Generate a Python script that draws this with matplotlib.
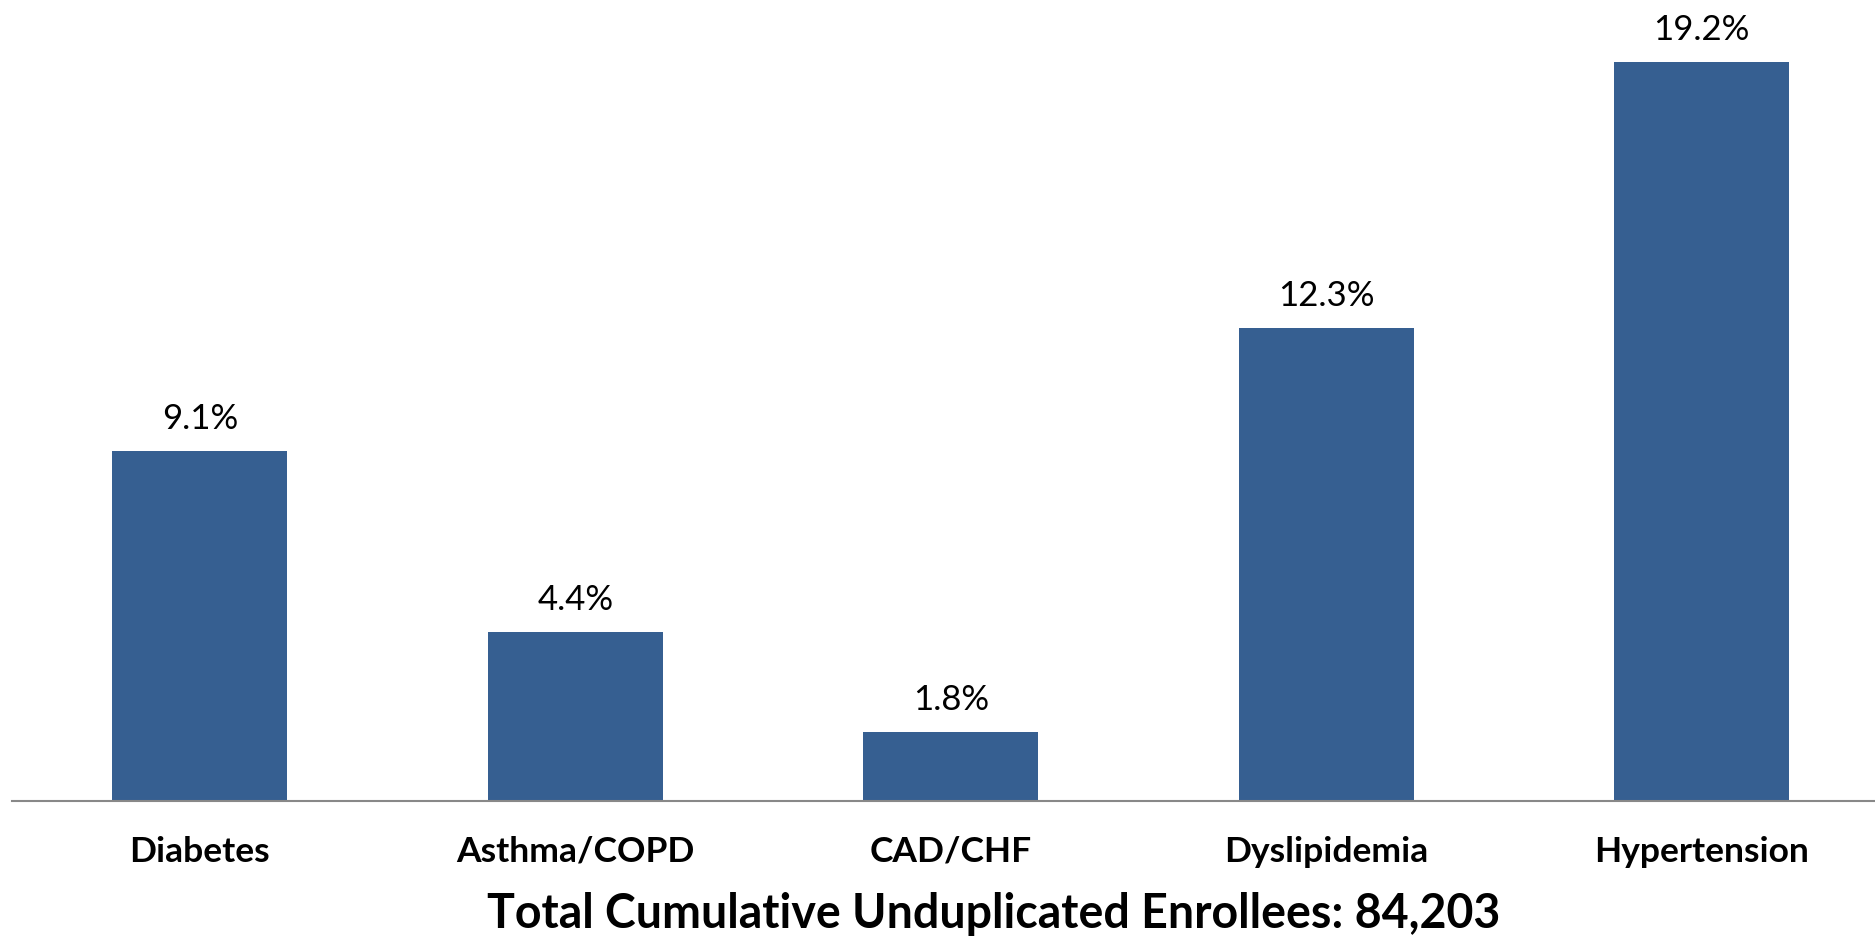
import matplotlib.pyplot as plt

plt.rcParams["font.family"] = ["Lato", "DejaVu Sans"]

categories = ["Diabetes", "Asthma/COPD", "CAD/CHF", "Dyslipidemia", "Hypertension"]
rates = [9.1, 4.4, 1.8, 12.3, 19.2]
total_label = "Total Cumulative Unduplicated Enrollees: 84,203"

fig = plt.figure(figsize=(18.75, 9.36), dpi=100)
ax = fig.add_axes([12 / 1875, 135 / 936, 1877.5 / 1875, 801 / 936])

x = range(len(categories))
bars = ax.bar(x, rates, width=0.466, color="#365F91")

ax.set_xlim(-0.5, len(categories) - 0.5)
ax.set_ylim(0, 20.81)

for b, v in zip(bars, rates):
    ax.annotate(f"{v:.1f}%", (b.get_x() + b.get_width() / 2, v),
                xytext=(0, 15.5), textcoords="offset points",
                ha="center", va="baseline", fontsize=25)

ax.set_xticks(list(x))
ax.set_xticklabels(categories, fontsize=25.5, fontweight="bold")
ax.tick_params(axis="x", length=0, pad=25)
ax.set_yticks([])

for s in ["top", "right", "left"]:
    ax.spines[s].set_visible(False)
ax.spines["bottom"].set_color("#888888")
ax.spines["bottom"].set_linewidth(1.5)

fig.text(994 / 1875, 8 / 936, total_label, ha="center", va="baseline",
         fontsize=33.5, fontweight="bold")

fig.savefig("out.png", dpi=100)
